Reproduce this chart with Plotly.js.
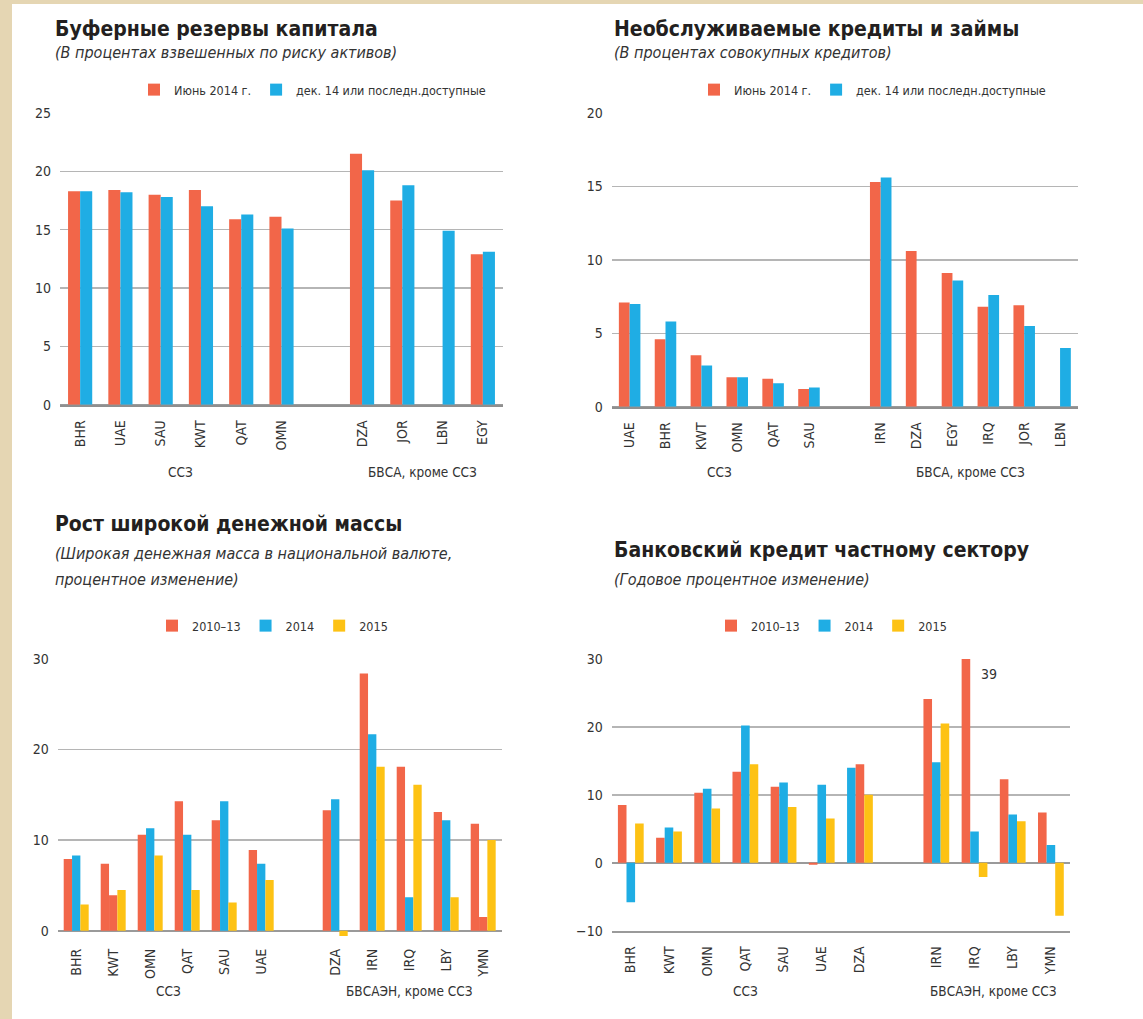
<!DOCTYPE html>
<html>
<head>
<meta charset="utf-8">
<script src="https://cdn.plot.ly/plotly-3.0.1.min.js"></script>
<style>
  html, body { margin: 0; padding: 0; background: #e5d6b3; }
  #chart { width: 1143px; height: 1019px; }
</style>
</head>
<body>
<div id="chart"></div>
<script>
// ---------- DATA ----------
// Panel 1: capital buffers (% of risk-weighted assets)
const capGcc = ['BHR', 'UAE', 'SAU', 'KWT', 'QAT', 'OMN'];
const capOther = ['DZA', 'JOR', 'LBN', 'EGY'];
const capJune14 = [18.3, 18.4, 18.0, 18.4, 15.9, 16.1, 21.5, 17.5, null, 12.9];
const capDec14 = [18.3, 18.2, 17.8, 17.0, 16.3, 15.1, 20.1, 18.8, 14.9, 13.1];

// Panel 2: non-performing loans (% of total loans)
const nplGcc = ['UAE', 'BHR', 'KWT', 'OMN', 'QAT', 'SAU'];
const nplOther = ['IRN', 'DZA', 'EGY', 'IRQ', 'JOR', 'LBN'];
const nplJune14 = [7.1, 4.6, 3.5, 2.0, 1.9, 1.2, 15.3, 10.6, 9.1, 6.8, 6.9, null];
const nplDec14 = [7.0, 5.8, 2.8, 2.0, 1.6, 1.3, 15.6, null, 8.6, 7.6, 5.5, 4.0];

// Panel 3: broad money growth (% change)
const bmGcc = ['BHR', 'KWT', 'OMN', 'QAT', 'SAU', 'UAE'];
const bmOther = ['DZA', 'IRN', 'IRQ', 'LBY', 'YMN'];
const bm1013 = [7.9, 7.4, 10.6, 14.3, 12.2, 8.9, 13.3, 28.4, 18.1, 13.1, 11.8];
const bm2014 = [8.3, 3.9, 11.3, 10.6, 14.3, 7.4, 14.5, 21.7, 3.7, 12.2, 1.5];
const bm2015 = [2.9, 4.5, 8.3, 4.5, 3.1, 5.6, -0.6, 18.1, 16.1, 3.7, 10.0];

// Panel 4: bank credit to private sector (annual % change)
const crGcc = ['BHR', 'KWT', 'OMN', 'QAT', 'SAU', 'UAE', 'DZA'];
const crOther = ['IRN', 'IRQ', 'LBY', 'YMN'];
const cr1013 = [8.5, 3.7, 10.3, 13.4, 11.2, -0.3, 14.0, 24.1, 39, 12.3, 7.4];
const cr2014 = [-5.8, 5.2, 10.9, 20.2, 11.8, 11.5, 14.5, 14.8, 4.6, 7.1, 2.6];
const cr2015 = [5.8, 4.6, 8.0, 14.5, 8.2, 6.5, 10.0, 20.5, -2.1, 6.1, -7.8];

const legendTwo = ['Июнь 2014 г.', 'дек. 14 или последн.доступные'];
const legendThree = ['2010–13', '2014', '2015'];
const groupGcc = 'ССЗ';
const groupTop = 'БВСА, кроме ССЗ';
const groupBottom = 'БВСАЭН, кроме ССЗ';

// ---------- STYLE ----------
const RED = '#f26649', BLUE = '#1fade4', YELLOW = '#fdc214';
const FONT = "'DejaVu Sans Condensed','Liberation Sans Narrow','Arial Narrow',sans-serif";
const TXT = '#333333';
const W = 1143, H = 1019;
const fx = p => p / W;
const fy = p => 1 - p / H;
const SP = ' ';

function cats(g, o) { return [...g, SP, ...o]; }
function vals(v, g) { return [...v.slice(0, g.length), null, ...v.slice(g.length)]; }

// colour quirks reproduced from the original picture
const bm2014RedCats = ['KWT', 'YMN'];
const crSwapCats = ['DZA'];

const traces = [];
function addBar(x, y, name, color, ax, leg, width, offset) {
  traces.push({
    type: 'bar', x: x, y: y, name: name,
    marker: { color: color },
    xaxis: 'x' + (ax === 1 ? '' : ax), yaxis: 'y' + (ax === 1 ? '' : ax),
    legend: leg, width: width, offset: offset, showlegend: true,
    hoverinfo: 'x+y'
  });
}

const c1 = cats(capGcc, capOther);
addBar(c1, vals(capJune14, capGcc), legendTwo[0], RED, 1, 'legend', 0.3, -0.3);
addBar(c1, vals(capDec14, capGcc), legendTwo[1], BLUE, 1, 'legend', 0.3, 0);

const c2 = cats(nplGcc, nplOther);
addBar(c2, vals(nplJune14, nplGcc), legendTwo[0], RED, 2, 'legend2', 0.3, -0.3);
addBar(c2, vals(nplDec14, nplGcc), legendTwo[1], BLUE, 2, 'legend2', 0.3, 0);

const c3 = cats(bmGcc, bmOther);
const bw3 = 0.225;
addBar(c3, vals(bm1013, bmGcc), legendThree[0], RED, 3, 'legend3', bw3, -1.5 * bw3);
addBar(c3, vals(bm2014, bmGcc), legendThree[1], c3.map(c => bm2014RedCats.includes(c) ? RED : BLUE), 3, 'legend3', bw3, -0.5 * bw3);
addBar(c3, vals(bm2015, bmGcc), legendThree[2], YELLOW, 3, 'legend3', bw3, 0.5 * bw3);

const c4 = cats(crGcc, crOther);
const bw4 = 0.225;
addBar(c4, vals(cr1013, crGcc), legendThree[0], c4.map(c => crSwapCats.includes(c) ? BLUE : RED), 4, 'legend4', bw4, -1.5 * bw4);
addBar(c4, vals(cr2014, crGcc), legendThree[1], c4.map(c => crSwapCats.includes(c) ? RED : BLUE), 4, 'legend4', bw4, -0.5 * bw4);
addBar(c4, vals(cr2015, crGcc), legendThree[2], YELLOW, 4, 'legend4', bw4, 0.5 * bw4);

const tickFont = { family: FONT, size: 14, color: TXT };
function xAxis(dom, n, anchor) {
  return {
    domain: [fx(dom[0]), fx(dom[1])], anchor: anchor, type: 'category',
    range: [-0.5, n - 0.5], tickangle: -90, tickfont: tickFont,
    showgrid: false, zeroline: false, ticks: '', ticklabelstandoff: 8,
    showline: true, linecolor: '#8f8f8f', linewidth: 2, fixedrange: true
  };
}
function yAxis(top, bottom, range, dtick, anchor) {
  return {
    domain: [fy(bottom), fy(top)], anchor: anchor, range: range, dtick: dtick, tick0: 0,
    tickfont: tickFont, showgrid: true, gridcolor: '#b5b5b5', gridwidth: 1.5,
    zeroline: true, zerolinecolor: '#9a9a9a', zerolinewidth: 2,
    ticks: '', ticklabelstandoff: 8, showline: false, fixedrange: true
  };
}

function legendAt(x, y) {
  return {
    x: fx(x), y: fy(y), xanchor: 'left', yanchor: 'middle', orientation: 'h',
    font: { family: FONT, size: 12.5, color: TXT }, bgcolor: 'rgba(0,0,0,0)',
    borderwidth: 0, itemclick: false, itemdoubleclick: false
  };
}

const ann = [];
function text(t, x, y, font) {
  ann.push({
    text: t, xref: 'paper', yref: 'paper', x: fx(x), y: fy(y),
    xanchor: 'left', yanchor: 'middle', showarrow: false, font: font
  });
}
function title(t, x, y) { text(t, x, y, { family: FONT, size: 21, color: '#231f20', weight: 'bold' }); }
function sub(t, x, y) { text(t, x, y, { family: FONT, size: 16, color: '#333', style: 'italic' }); }

title('Буферные резервы капитала', 53, 29);
sub('(В процентах взвешенных по риску активов)', 53, 53);
title('Необслуживаемые кредиты и займы', 612, 29);
sub('(В процентах совокупных кредитов)', 612, 53);
title('Рост широкой денежной массы', 53, 524);
sub('(Широкая денежная масса в национальной валюте,', 53, 553);
sub('процентное изменение)', 53, 579);
title('Банковский кредит частному сектору', 612, 550);
sub('(Годовое процентное изменение)', 612, 579);

function groupLabels(ax, g, o, yPx, otherLabel) {
  const xr = 'x' + (ax === 1 ? '' : ax);
  [[groupGcc, (g.length - 1) / 2], [otherLabel, g.length + 1 + (o.length - 1) / 2]].forEach(([t, xi]) => {
    ann.push({
      text: t, xref: xr, yref: 'paper', x: xi, y: fy(yPx), xanchor: 'center', yanchor: 'middle',
      showarrow: false, font: { family: FONT, size: 13.5, color: TXT }
    });
  });
}
groupLabels(1, capGcc, capOther, 472, groupTop);
groupLabels(2, nplGcc, nplOther, 472, groupTop);
groupLabels(3, bmGcc, bmOther, 991, groupBottom);
groupLabels(4, crGcc, crOther, 991, groupBottom);

// value label for the clipped IRQ bar
const irqIdx = c4.indexOf('IRQ');
ann.push({
  text: String(vals(cr1013, crGcc)[irqIdx]), xref: 'x4', yref: 'y4', x: irqIdx, y: 30,
  xanchor: 'left', yanchor: 'top', xshift: 4, yshift: -5, showarrow: false,
  font: { family: FONT, size: 14, color: TXT }
});

const layout = {
  width: W, height: H, margin: { l: 0, r: 0, t: 0, b: 0 },
  paper_bgcolor: '#e5d6b3', plot_bgcolor: 'rgba(0,0,0,0)',
  barmode: 'group', font: { family: FONT, color: TXT },
  shapes: [{ type: 'rect', xref: 'paper', yref: 'paper', x0: fx(12), x1: 1, y0: 0, y1: fy(4),
             fillcolor: '#ffffff', line: { width: 0 }, layer: 'below' }],
  xaxis: xAxis([60, 503], c1.length, 'y'),
  yaxis: yAxis(113, 404.7, [0, 25], 5, 'x'),
  xaxis2: xAxis([611.7, 1078], c2.length, 'y2'),
  yaxis2: yAxis(113, 406.7, [0, 20], 5, 'x2'),
  xaxis3: Object.assign(xAxis([57.7, 501.7], c3.length, 'y3'), { showline: false }),
  yaxis3: yAxis(659, 937.0, [-0.7, 30], 10, 'x3'),
  xaxis4: xAxis([611.7, 1070], c4.length, 'y4'),
  yaxis4: yAxis(659, 930.7, [-10, 30], 10, 'x4'),
  legend: legendAt(134, 90),
  legend2: legendAt(694, 90),
  legend3: legendAt(152, 626),
  legend4: legendAt(711, 626),
  annotations: ann
};
layout.xaxis4.linecolor = '#9a9a9a';

Plotly.newPlot('chart', traces, layout, { displayModeBar: false, staticPlot: true });
</script>
</body>
</html>
